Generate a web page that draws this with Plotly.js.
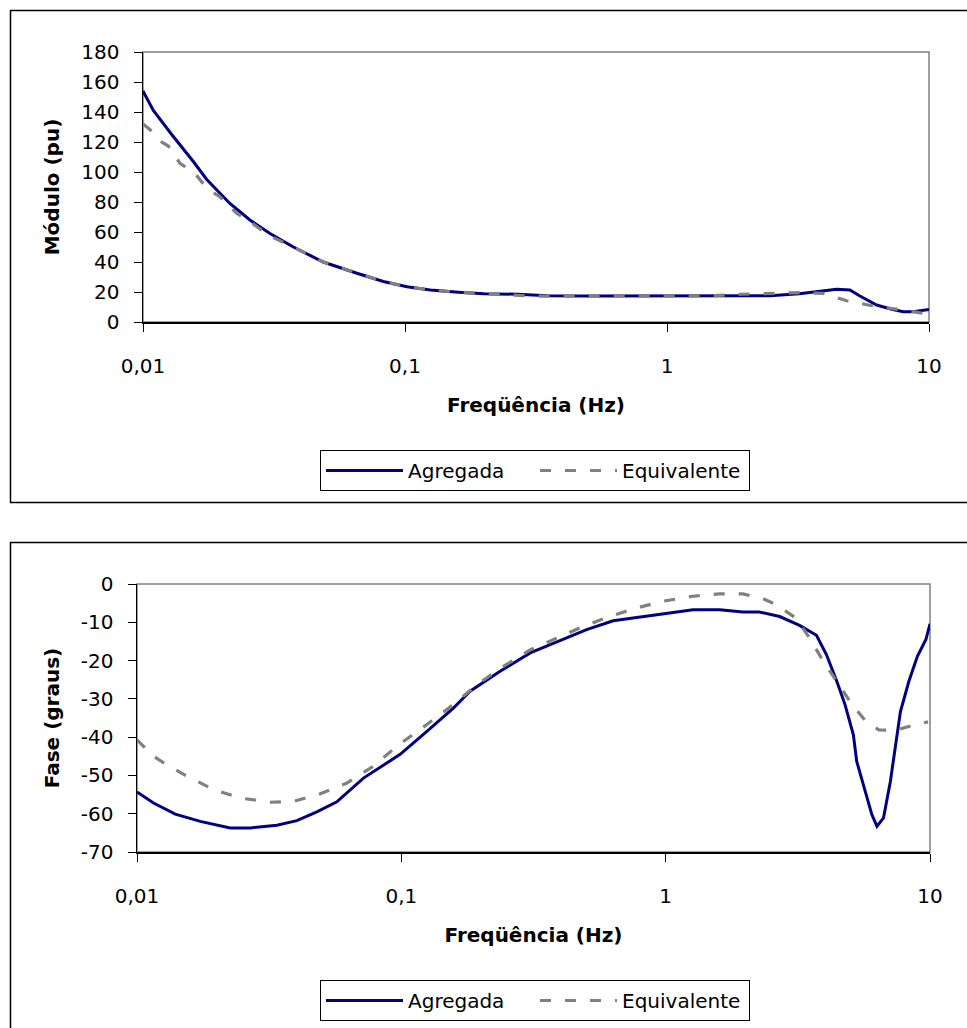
<!DOCTYPE html>
<html>
<head>
<meta charset="utf-8">
<script src="https://cdn.plot.ly/plotly-3.0.1.min.js"></script>
<style>
html,body{margin:0;padding:0;background:#fff;}
#chart{width:967px;height:1028px;}
</style>
</head>
<body>
<div id="chart"></div>
<script>
// ---- Data ----
const seriesNames = ["Agregada", "Equivalente"];

const magFreqAgregada = [0.01, 0.01095, 0.01287, 0.01556, 0.01751, 0.02146, 0.02559, 0.03053, 0.03749, 0.04875, 0.06551, 0.0827, 0.1018, 0.125, 0.16, 0.2, 0.27, 0.35, 0.5, 1, 1.5, 2, 2.47, 3.2, 3.84, 4.44, 4.99, 5.45, 6.31, 7.2, 7.98, 8.7, 10];
const magAgregada = [154, 141, 125, 107, 95, 79, 68, 59, 50, 40, 32.5, 27, 23.5, 21.3, 19.8, 18.8, 18.5, 17.5, 17.3, 17.3, 17.3, 17.4, 17.5, 18.8, 20.2, 21.8, 21.3, 17.3, 11.3, 8.5, 6.9, 6.9, 8.4];

const magFreqEquivalente = [0.01, 0.01062, 0.01179, 0.01249, 0.01384, 0.0158, 0.01751, 0.01967, 0.02277, 0.02559, 0.0305, 0.03749, 0.04875, 0.06551, 0.0827, 0.1018, 0.125, 0.16, 0.2, 0.3, 0.5, 1, 1.5, 1.9, 2.4, 3.22, 3.95, 4.85, 6.31, 7.98, 9.8];
const magEquivalente = [132, 128.4, 120, 117.3, 105.8, 99.1, 89.1, 83.5, 72.5, 66.9, 57.3, 50, 40, 32.5, 27, 23.5, 21.3, 19.8, 18.8, 17.3, 17.3, 17.3, 17.5, 18.5, 19.1, 19.6, 19.1, 14.2, 10.2, 8, 5.3];

const phaseFreqAgregada = [0.01, 0.01155, 0.01396, 0.01735, 0.02253, 0.02684, 0.03383, 0.04025, 0.04792, 0.05703, 0.07189, 0.099, 0.1249, 0.1574, 0.182, 0.2364, 0.3072, 0.411, 0.5023, 0.633, 0.9502, 1.27, 1.6, 1.96, 2.26, 2.7, 3.21, 3.72, 4.06, 4.44, 4.77, 5.13, 5.28, 5.68, 6.03, 6.3, 6.67, 7.08, 7.4, 7.73, 8.32, 8.96, 9.65, 10];
const phaseAgregada = [-54.3, -57.2, -60.1, -62.0, -63.7, -63.7, -63.0, -61.8, -59.5, -56.9, -50.7, -44.5, -38.5, -32.4, -28.0, -22.8, -18.0, -14.5, -11.9, -9.6, -8.0, -6.7, -6.7, -7.3, -7.3, -8.5, -10.8, -13.4, -18.5, -25.4, -31.5, -39.4, -46.3, -54.2, -60.3, -63.3, -61.1, -51.6, -42.8, -33.3, -25.4, -18.9, -14.5, -10.4];

const phaseFreqEquivalente = [0.01, 0.01155, 0.01262, 0.01545, 0.01949, 0.02457, 0.03191, 0.03909, 0.04937, 0.06225, 0.07834, 0.0961, 0.1249, 0.1574, 0.1933, 0.2435, 0.3072, 0.386, 0.4868, 0.613, 0.7725, 0.975, 1.27, 1.6, 1.96, 2.33, 2.62, 3.11, 3.47, 3.88, 4.44, 4.98, 5.72, 6.4, 7.36, 8.6, 9.83];
const phaseEquivalente = [-40.7, -45.0, -46.7, -50.2, -53.7, -55.9, -57.0, -56.8, -54.8, -52.0, -47.6, -42.4, -36.7, -31.5, -26.3, -21.5, -17.2, -14.1, -11.1, -8.5, -6.3, -4.5, -3.2, -2.6, -2.6, -3.8, -5.4, -8.9, -13.7, -19.3, -25.4, -30.7, -35.9, -38.1, -38.3, -36.9, -36.0];

const xTickVals = [0.01, 0.1, 1, 10];
const xTickText = ["0,01", "0,1", "1", "10"];
const magTickVals = [0, 20, 40, 60, 80, 100, 120, 140, 160, 180];
const magTickText = ["0", "20", "40", "60", "80", "100", "120", "140", "160", "180"];
const phaseTickVals = [-70, -60, -50, -40, -30, -20, -10, 0];
const phaseTickText = ["-70", "-60", "-50", "-40", "-30", "-20", "-10", "0"];

const xTitle = "Freqüência (Hz)";
const magTitle = "Módulo (pu)";
const phaseTitle = "Fase (graus)";

// ---- Styling ----
const W = 967, H = 1028;
const FONT = "DejaVu Sans, Liberation Sans, Arial, sans-serif";
const NAVY = "#000080", GREY = "#808080";
const px = v => v / W;
const py = v => 1 - v / H;

const lineA = {color: NAVY, width: 3};
const lineE = {color: GREY, width: 3.2, dash: "11px,14px"};

const traces = [
  {x: magFreqAgregada, y: magAgregada, name: seriesNames[0], type: "scatter", mode: "lines", line: lineA, xaxis: "x", yaxis: "y", legend: "legend"},
  {x: magFreqEquivalente, y: magEquivalente, name: seriesNames[1], type: "scatter", mode: "lines", line: lineE, xaxis: "x", yaxis: "y", legend: "legend"},
  {x: phaseFreqAgregada, y: phaseAgregada, name: seriesNames[0], type: "scatter", mode: "lines", line: lineA, xaxis: "x2", yaxis: "y2", legend: "legend2"},
  {x: phaseFreqEquivalente, y: phaseEquivalente, name: seriesNames[1], type: "scatter", mode: "lines", line: lineE, xaxis: "x2", yaxis: "y2", legend: "legend2"}
];

const tickFont = {family: FONT, size: 20, color: "#000"};
const titleFont = {family: FONT, size: 20, color: "#000", weight: "bold"};

function xAxis(domain, anchor) {
  return {
    domain: domain, anchor: anchor, type: "log", range: [-2, 1],
    tickmode: "array", tickvals: xTickVals, ticktext: xTickText,
    ticks: "outside", ticklen: 8, tickwidth: 1, tickcolor: "#000",
    showline: true, linecolor: "#000", linewidth: 1.5,
    showgrid: false, zeroline: false, fixedrange: true,
    tickfont: tickFont, ticklabelstandoff: 17,
    title: {text: xTitle, font: titleFont, standoff: 21}
  };
}
function yAxis(domain, anchor, range, vals, text, title) {
  return {
    domain: domain, anchor: anchor, range: range,
    tickmode: "array", tickvals: vals, ticktext: text,
    ticks: "outside", ticklen: 8, tickwidth: 1, tickcolor: "#000",
    showline: true, linecolor: "#000", linewidth: 1.5,
    showgrid: false, zeroline: false, fixedrange: true,
    tickfont: tickFont, ticklabelstandoff: 10,
    title: {text: title, font: titleFont, standoff: 16}
  };
}

function legendAt(top) {
  return {
    x: px(320), y: py(top), xanchor: "left", yanchor: "top",
    orientation: "h", bgcolor: "#fff", bordercolor: "#000", borderwidth: 1,
    font: {family: FONT, size: 20, color: "#000"},
    itemwidth: 77, entrywidth: 122, entrywidthmode: "pixels",
    itemclick: false, itemdoubleclick: false
  };
}

const layout = {
  width: W, height: H,
  margin: {l: 0, r: 0, t: 0, b: 0},
  paper_bgcolor: "#fff", plot_bgcolor: "#fff",
  showlegend: true,
  xaxis: xAxis([px(143), px(929)], "y"),
  yaxis: yAxis([py(322), py(52)], "x", [0, 180], magTickVals, magTickText, magTitle),
  xaxis2: xAxis([px(137), px(930)], "y2"),
  yaxis2: yAxis([py(852), py(584)], "x2", [-70, 0], phaseTickVals, phaseTickText, phaseTitle),
  legend: legendAt(450),
  legend2: legendAt(980),
  shapes: [
    // outer chart frames
    {type: "rect", xref: "paper", yref: "paper", x0: px(10.5), x1: 1.05, y0: py(502.5), y1: py(10.5), line: {color: "#000", width: 1.5}, layer: "below"},
    {type: "rect", xref: "paper", yref: "paper", x0: px(10.5), x1: 1.05, y0: -0.05, y1: py(542.5), line: {color: "#000", width: 1.5}, layer: "below"},
    // plot-area borders (grey)
    {type: "rect", xref: "x domain", yref: "y domain", x0: 0, x1: 1, y0: 0, y1: 1, line: {color: GREY, width: 1.5}, layer: "below"},
    {type: "rect", xref: "x2 domain", yref: "y2 domain", x0: 0, x1: 1, y0: 0, y1: 1, line: {color: GREY, width: 1.5}, layer: "below"}
  ]
};

Plotly.newPlot("chart", traces, layout, {staticPlot: true, displayModeBar: false});
</script>
</body>
</html>
